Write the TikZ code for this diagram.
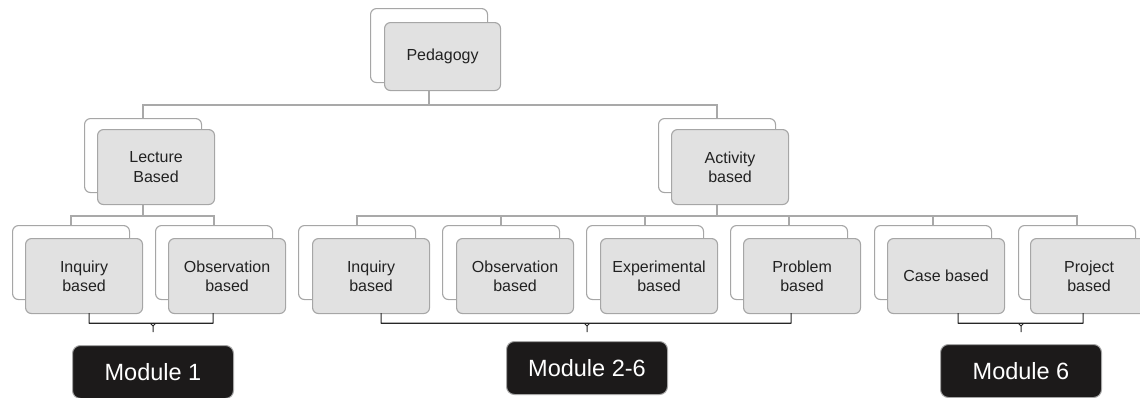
\documentclass[tikz,border=0pt]{standalone}
\usepackage{fontspec}
\setmainfont{Liberation Sans}
\begin{document}
\begin{tikzpicture}[x=1pt,y=-1pt,
  back/.style={draw=boxline, fill=white, line width=1.1pt, rounded corners=6pt,
    minimum width=117pt, minimum height=74pt, anchor=north west, inner sep=0pt},
  front/.style={draw=boxline, fill=boxfill, line width=1.1pt, rounded corners=6pt,
    minimum width=117pt, minimum height=75pt, anchor=north west, inner sep=0pt,
    align=center, font=\fontsize{16}{19.5}\selectfont, text=txt},
  conn/.style={draw=connc, line width=1.8pt},
  brk/.style={draw=black!85, line width=1pt},
  modbox/.style={draw=gray!70, fill=modfill, line width=1pt, rounded corners=8pt,
    minimum width=161pt, minimum height=53pt, anchor=north west, inner sep=0pt,
    text=white, font=\fontsize{23.5}{27}\selectfont}]
\definecolor{boxline}{HTML}{A6A6A6}
\definecolor{boxfill}{HTML}{E1E1E1}
\definecolor{connc}{HTML}{A9A9A9}
\definecolor{txt}{HTML}{222222}
\definecolor{modfill}{HTML}{1C1A1A}
\useasboundingbox (0,0) rectangle (1140,397);
\clip (0,0) rectangle (1140,397);

% level 1
\node[back] (pedb) at (370,8) {};
\node[front, minimum width=116pt, minimum height=68pt] (ped) at (384,22) {Pedagogy};

% level 2
\node[back] (lecb) at (84,118) {};
\node[front] (lec) at (97,129) {Lecture\\Based};
\node[back] (actb) at (658,118) {};
\node[front] (act) at (671,129) {Activity\\based};

% level 3
\node[back] (inq1b) at (12,225) {};
\node[front] (inq1) at (25,238) {Inquiry\\based};
\node[back] (obs1b) at (155,225) {};
\node[front] (obs1) at (168,238) {Observation\\based};
\node[back] (inq2b) at (298,225) {};
\node[front] (inq2) at (312,238) {Inquiry\\based};
\node[back] (obs2b) at (442,225) {};
\node[front] (obs2) at (456,238) {Observation\\based};
\node[back] (expb) at (586,225) {};
\node[front] (exp) at (600,238) {Experimental\\based};
\node[back] (probb) at (730,225) {};
\node[front] (prob) at (743,238) {Problem\\based};
\node[back] (caseb) at (874,225) {};
\node[front] (case) at (887,238) {Case based};
\node[back] (projb) at (1018,225) {};
\node[front] (proj) at (1030,238) {Project\\based};

% connectors
\draw[conn] (ped.south -| pedb.north) -- ++(0,14) -| (lecb.north);
\draw[conn] (ped.south -| pedb.north) -- ++(0,14) -| (actb.north);
\draw[conn] (lec.south -| lecb.north) -- ++(0,11) -| (inq1b.north);
\draw[conn] (lec.south -| lecb.north) -- ++(0,11) -| (obs1b.north);
\foreach \c in {inq2b,obs2b,expb,probb,caseb,projb}
  \draw[conn] (act.south -| actb.north) -- ++(0,11) -| (\c.north);

% module boxes
\node[modbox] (m1) at (72,345) {Module 1};
\node[modbox] (m2) at (506,341) {Module 2-6};
\node[modbox] (m6) at (940,344) {Module 6};

% brackets
\coordinate (b1l) at (89,313); \coordinate (b1r) at (213,313);
\coordinate (b2l) at (381,313); \coordinate (b2r) at (791,313);
\coordinate (b3l) at (958,313); \coordinate (b3r) at (1083,313);
\foreach \l/\r/\m in {b1l/b1r/m1, b2l/b2r/m2, b3l/b3r/m6}{
  \draw[brk] (\l) -- ++(0,10) coordinate (ll) -- (ll -| \m.north) ++(-3,0) -- ++(3,3) -- ++(0,6);
  \draw[brk] (\r) -- ++(0,10) coordinate (rr) -- (rr -| \m.north) ++(3,0) -- ++(-3,3);
  \draw[brk] (ll) -- (rr);
}
\end{tikzpicture}
\end{document}
